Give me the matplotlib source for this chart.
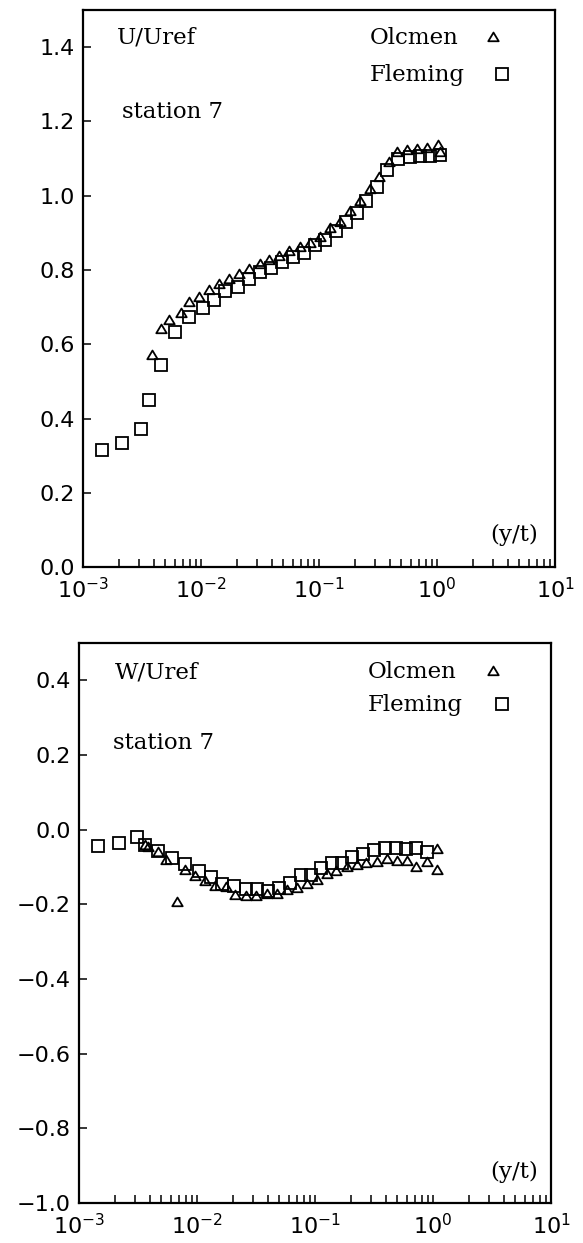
import numpy as np
import matplotlib
matplotlib.use("Agg")
import matplotlib.pyplot as plt
from matplotlib.path import Path
from matplotlib.ticker import LogLocator, FuncFormatter, NullFormatter

plt.rcParams['mathtext.fontset'] = 'dejavusans'

# ---------------- data: top panel (U/Uref) ----------------
u_olcmen_x = [3.85e-3, 4.59e-3, 5.33e-3, 6.71e-3, 7.9e-3, 9.6e-3, 0.0117, 0.0142,
              0.0173, 0.0211, 0.0257, 0.0316, 0.038, 0.0462, 0.0562, 0.0684,
              0.0832, 0.101, 0.123, 0.150, 0.182, 0.222, 0.270, 0.323, 0.393,
              0.46, 0.56, 0.68, 0.83, 1.02, 1.06]
u_olcmen_y = [0.571, 0.640, 0.665, 0.685, 0.715, 0.728, 0.747, 0.763,
              0.777, 0.788, 0.803, 0.817, 0.828, 0.838, 0.851, 0.862,
              0.874, 0.890, 0.912, 0.929, 0.958, 0.987, 1.018, 1.051, 1.092,
              1.118, 1.122, 1.125, 1.128, 1.137, 1.118]

u_fleming_x = [1.46e-3, 2.16e-3, 3.08e-3, 3.6e-3, 4.59e-3, 6.04e-3, 7.85e-3, 0.0103,
               0.0128, 0.0161, 0.0205, 0.0256, 0.0316, 0.0393, 0.0487, 0.060,
               0.074, 0.0918, 0.112, 0.138, 0.170, 0.208, 0.252, 0.308, 0.380,
               0.463, 0.589, 0.716, 0.871, 1.06]
u_fleming_y = [0.314, 0.333, 0.373, 0.449, 0.543, 0.634, 0.674, 0.699,
               0.720, 0.744, 0.754, 0.777, 0.795, 0.806, 0.821, 0.835,
               0.847, 0.866, 0.881, 0.904, 0.929, 0.954, 0.987, 1.024, 1.069,
               1.098, 1.105, 1.107, 1.108, 1.110]

# ---------------- data: bottom panel (W/Uref) ----------------
w_olcmen_x = [3.64e-3, 3.88e-3, 4.71e-3, 5.48e-3, 6.76e-3, 7.94e-3, 9.66e-3, 0.0117,
              0.0143, 0.0177, 0.0211, 0.026, 0.0318, 0.0393, 0.0478, 0.058,
              0.0707, 0.0859, 0.104, 0.127, 0.152, 0.188, 0.225, 0.273, 0.333,
              0.404, 0.492, 0.598, 0.714, 0.885, 1.09, 1.09]
w_olcmen_y = [-0.042, -0.047, -0.060, -0.080, -0.193, -0.107, -0.124, -0.138,
              -0.152, -0.154, -0.175, -0.179, -0.178, -0.172, -0.173, -0.162,
              -0.157, -0.145, -0.136, -0.118, -0.111, -0.100, -0.095, -0.089, -0.086,
              -0.078, -0.084, -0.084, -0.100, -0.086, -0.053, -0.109]

w_fleming_x = [1.46e-3, 2.19e-3, 3.09e-3, 3.64e-3, 4.71e-3, 6.12e-3, 7.94e-3, 0.0103,
               0.0131, 0.0163, 0.0207, 0.026, 0.0323, 0.0397, 0.050, 0.062,
               0.0763, 0.0929, 0.113, 0.140, 0.170, 0.207, 0.257, 0.316, 0.389,
               0.483, 0.587, 0.714, 0.885]
w_fleming_y = [-0.044, -0.037, -0.020, -0.042, -0.056, -0.076, -0.092, -0.111,
               -0.127, -0.145, -0.151, -0.160, -0.160, -0.164, -0.156, -0.142,
               -0.122, -0.122, -0.102, -0.089, -0.089, -0.074, -0.064, -0.055, -0.049,
               -0.049, -0.053, -0.049, -0.060]

u_yticks = [0.0, 0.2, 0.4, 0.6, 0.8, 1.0, 1.2, 1.4]
w_yticks = [-1.0, -0.8, -0.6, -0.4, -0.2, 0.0, 0.2, 0.4]

# ---------------- styling ----------------
tri = Path([(-1, -0.72), (1, -0.72), (0, 0.95), (-1, -0.72)],
           [Path.MOVETO, Path.LINETO, Path.LINETO, Path.CLOSEPOLY])
tri_kw = dict(marker=tri, ms=7.5, mfc='none', mec='black', mew=1.3, ls='none')
sq_kw = dict(marker='s', ms=8.0, mfc='none', mec='black', mew=1.3, ls='none')
serif = 'DejaVu Serif'
tick_fs = 16
txt_fs = 16.5


def yfmt(v, pos):
    return f"{v:.1f}".replace('-', '\u2212')


def style_axes(ax, ylim, yticks):
    ax.set_xscale('log')
    ax.set_xlim(1e-3, 1e1)
    ax.set_ylim(*ylim)
    ax.xaxis.set_major_locator(LogLocator(base=10, numticks=10))
    ax.xaxis.set_minor_locator(LogLocator(base=10, subs=np.arange(2, 10), numticks=20))
    ax.xaxis.set_minor_formatter(NullFormatter())
    ax.set_yticks(yticks)
    ax.yaxis.set_major_formatter(FuncFormatter(yfmt))
    ax.tick_params(axis='x', which='both', direction='in', length=6, width=1.1,
                   top=False, bottom=True, labelsize=tick_fs, pad=7)
    ax.tick_params(axis='y', which='both', direction='in', length=6, width=1.1,
                   left=True, right=False, labelsize=tick_fs, pad=6)
    for s in ax.spines.values():
        s.set_linewidth(1.6)


fig = plt.figure(figsize=(5.83, 12.43), dpi=100)
ax1 = fig.add_axes([0.1424, 0.5438, 0.8096, 0.4481])
ax2 = fig.add_axes([0.1355, 0.0322, 0.8096, 0.4505])

# top panel
style_axes(ax1, (0.0, 1.5), u_yticks)
ax1.plot(u_olcmen_x, u_olcmen_y, **tri_kw)
ax1.plot(u_fleming_x, u_fleming_y, **sq_kw)
ax1.text(0.072, 0.950, "U/Uref", transform=ax1.transAxes, va='center', ha='left',
         family=serif, fontsize=txt_fs)
ax1.text(0.083, 0.817, "station 7", transform=ax1.transAxes, va='center', ha='left',
         family=serif, fontsize=txt_fs)
ax1.text(0.608, 0.950, "Olcmen", transform=ax1.transAxes, va='center', ha='left',
         family=serif, fontsize=txt_fs)
ax1.text(0.608, 0.883, "Fleming", transform=ax1.transAxes, va='center', ha='left',
         family=serif, fontsize=txt_fs)
ax1.plot([0.869], [0.952], transform=ax1.transAxes, clip_on=False, **tri_kw)
ax1.plot([0.888], [0.885], transform=ax1.transAxes, clip_on=False, **sq_kw)
ax1.text(0.965, 0.058, "(y/t)", transform=ax1.transAxes, va='center', ha='right',
         family=serif, fontsize=txt_fs)

# bottom panel
style_axes(ax2, (-1.0, 0.5), w_yticks)
ax2.plot(w_olcmen_x, w_olcmen_y, **tri_kw)
ax2.plot(w_fleming_x, w_fleming_y, **sq_kw)
ax2.text(0.076, 0.948, "W/Uref", transform=ax2.transAxes, va='center', ha='left',
         family=serif, fontsize=txt_fs)
ax2.text(0.072, 0.821, "station 7", transform=ax2.transAxes, va='center', ha='left',
         family=serif, fontsize=txt_fs)
ax2.text(0.612, 0.948, "Olcmen", transform=ax2.transAxes, va='center', ha='left',
         family=serif, fontsize=txt_fs)
ax2.text(0.612, 0.889, "Fleming", transform=ax2.transAxes, va='center', ha='left',
         family=serif, fontsize=txt_fs)
ax2.plot([0.877], [0.950], transform=ax2.transAxes, clip_on=False, **tri_kw)
ax2.plot([0.896], [0.891], transform=ax2.transAxes, clip_on=False, **sq_kw)
ax2.text(0.972, 0.055, "(y/t)", transform=ax2.transAxes, va='center', ha='right',
         family=serif, fontsize=txt_fs)

fig.savefig("out.png", dpi=100, facecolor='white')
